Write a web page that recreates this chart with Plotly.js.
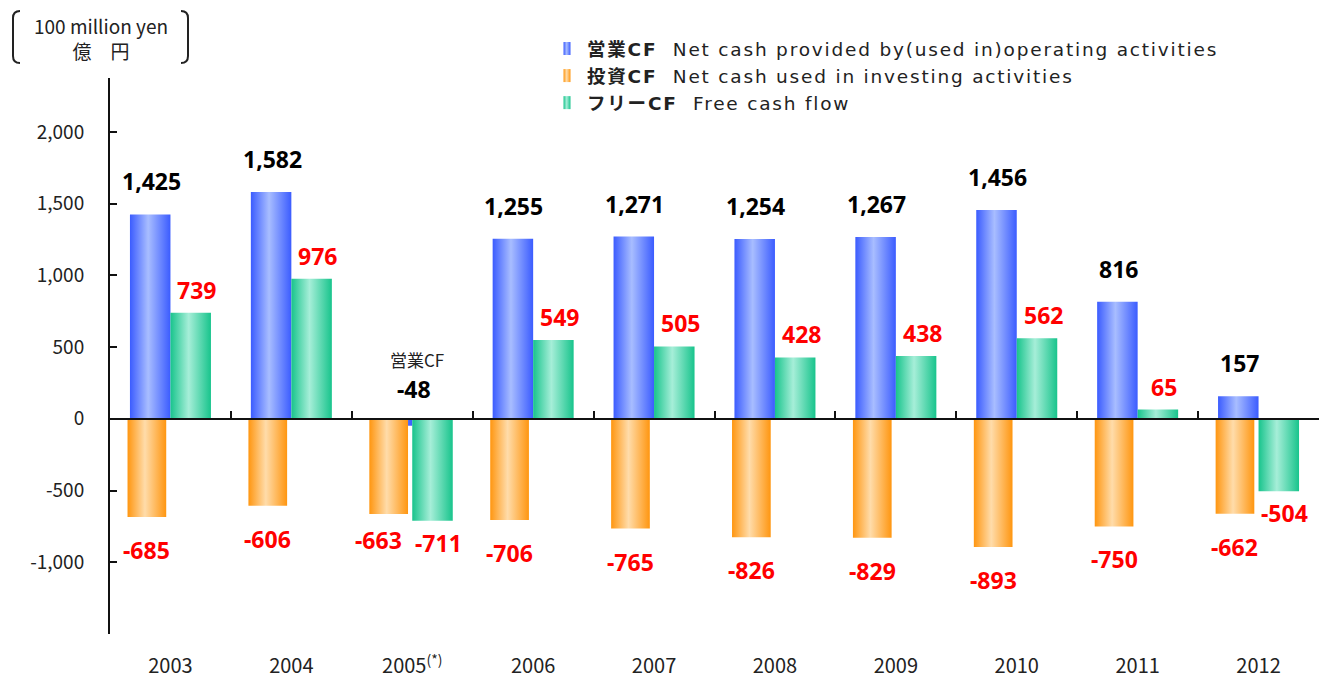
<!DOCTYPE html>
<html><head><meta charset="utf-8">
<script src="https://cdn.plot.ly/plotly-3.0.1.min.js"></script>
<style>body{margin:0;background:#fff}</style></head>
<body><div id="chart" style="width:1319px;height:678px"></div>
<script>
const years = ['2003','2004','2005','2006','2007','2008','2009','2010','2011','2012'];
const yearLabels = ['2003','2004','2005<sup>(*)</sup>','2006','2007','2008','2009','2010','2011','2012'];
const operatingCF = [1425,1582,-48,1255,1271,1254,1267,1456,816,157];
const investingCF = [-685,-606,-663,-706,-765,-826,-829,-893,-750,-662];
const freeCF = [739,976,-711,549,505,428,438,562,65,-504];
const yTickVals = [-1500,-1000,-500,0,500,1000,1500,2000];
const yTickText = ['','-1,000','-500','0','500','1,000','1,500','2,000'];
const seriesNames = [
  '<b>営業CF</b>  Net cash provided by(used in)operating activities',
  '<b>投資CF</b>  Net cash used in investing activities',
  '<b>フリーCF</b>  Free cash flow'
];
const opPrefix = '営業CF';
const unitLabel = '100 million yen<br>億　円';

const FONT = '"Noto Sans CJK JP", "Noto Sans", sans-serif';
const LFONT = '"DejaVu Sans", "Noto Sans CJK JP", sans-serif';
const VFONT = '"Noto Sans", "DejaVu Sans", sans-serif';
const colors = ['#4a6cff','#ffa024','#22cc96'];
const grads = [
  ['#3b5cff','#a8bdff','#3b5cff'],
  ['#ff9610','#ffdcaa','#ff9610'],
  ['#18c48c','#a6eed8','#18c48c']
];

const W = 1319, H = 678, ML = 110, MR = 0, MT = 78, MB = 44;
const yMin = -1500, yMax = 2376;
const pw = W - ML - MR, ph = H - MT - MB;
const px2x = p => (p - ML) / pw;
const py2y = p => (H - MB - p) / ph;

function fmt(v){ return (v < 0 ? '-' : '') + Math.abs(v).toLocaleString('en-US'); }

const idx = years.map((_, i) => i);
const traces = [
  {type:'bar', x: years, y: operatingCF, name: seriesNames[0], offset: -0.335, width: 0.335,
   marker:{color: colors[0], line:{width:0}}, legendgroup:'a', hoverinfo:'skip'},
  {type:'bar', x: years, y: investingCF, name: seriesNames[1], offset: -0.355, width: 0.32,
   marker:{color: colors[1], line:{width:0}}, legendgroup:'b', hoverinfo:'skip'},
  {type:'bar', x: years, y: freeCF, name: seriesNames[2], offset: 0, width: 0.335,
   marker:{color: colors[2], line:{width:0}}, legendgroup:'c', hoverinfo:'skip'},
  {type:'scatter', mode:'none', x: years, y: operatingCF, xaxis:'x2', yaxis:'y', showlegend:false, hoverinfo:'skip'}
];

const ann = [];
const vFont = (c) => ({family: VFONT, size: 23, color: c});
idx.forEach(i => {
  const op = operatingCF[i];
  if (op >= 0) {
    ann.push({x: i - 0.1675, y: op, xref:'x', yref:'y', text:'<b>'+fmt(op)+'</b>', showarrow:false,
      yanchor:'bottom', yshift: 15, xshift: 1, font: vFont('#000')});
  } else {
    ann.push({x: i, y: 0, xref:'x', yref:'y', text:'<b>'+fmt(op)+'</b>', showarrow:false,
      yanchor:'bottom', yshift: 12, xshift: 2, font: vFont('#000')});
    ann.push({x: i, y: 0, xref:'x', yref:'y', text: opPrefix, showarrow:false,
      yanchor:'bottom', yshift: 45, xshift: 5, font: {family: FONT, size: 17, color:'#222'}});
  }
  const inv = investingCF[i];
  const fc = freeCF[i];
  const crowd = fc < 0 && Math.abs(fc - inv) < 100;
  ann.push({x: i - 0.195, y: inv, xref:'x', yref:'y', text:'<b>'+fmt(inv)+'</b>', showarrow:false,
    yanchor:'top', yshift: crowd ? -8 : -15, xshift: crowd ? -10 : 0, font: vFont('#ff0000')});
  ann.push({x: i + 0.1675, y: fc, xref:'x', yref:'y', text:'<b>'+fmt(fc)+'</b>', showarrow:false,
    yanchor: fc >= 0 ? 'bottom' : 'top', yshift: fc >= 0 ? 5 : -4, xshift: 6, font: vFont('#ff0000')});
});
ann.push({x: px2x(101), y: py2y(38), xref:'paper', yref:'paper', text: unitLabel, showarrow:false,
  xanchor:'center', yanchor:'middle', font:{family: FONT, size: 19, color:'#222'}});

function bracket(x0, dir){
  const top = 11, bot = 63, r = 7;
  const a = px2x(x0), b = px2x(x0 - dir*r);
  return {type:'path', xref:'paper', yref:'paper', line:{color:'#222', width:2},
    path: `M ${a} ${py2y(top)} Q ${b} ${py2y(top)} ${b} ${py2y(top+r)} L ${b} ${py2y(bot-r)} Q ${b} ${py2y(bot)} ${a} ${py2y(bot)}`};
}

const layout = {
  width: W, height: H, margin:{l: ML, r: MR, t: MT, b: MB},
  paper_bgcolor:'#fff', plot_bgcolor:'rgba(0,0,0,0)',
  barmode:'overlay', showlegend: true,
  font:{family: FONT, size: 17, color:'#222'},
  legend:{x: px2x(547), y: py2y(30), xanchor:'left', yanchor:'top', bgcolor:'rgba(0,0,0,0)',
    traceorder:'grouped', tracegroupgap: 0, font:{family: LFONT, size: 18.5, color:'#222'}},
  xaxis:{type:'category', categoryorder:'array', categoryarray: years, range:[-0.5, 9.5],
    anchor:'free', position: (0 - yMin) / (yMax - yMin), showline:true, linecolor:'#111', linewidth:2,
    ticks:'inside', tickson:'boundaries', ticklen:7, tickwidth:2, tickcolor:'#111',
    showticklabels:false, showgrid:false, zeroline:false, fixedrange:true},
  xaxis2:{type:'category', overlaying:'x', matches:'x', anchor:'y', side:'bottom',
    categoryorder:'array', categoryarray: years, tickmode:'array', tickvals: years, ticktext: yearLabels,
    showline:false, ticks:'', showgrid:false, zeroline:false, ticklabelstandoff: 18,
    tickfont:{family: FONT, size: 20, color:'#222'}},
  yaxis:{range:[yMin, yMax], tickmode:'array', tickvals: yTickVals, ticktext: yTickText,
    showline:true, linecolor:'#111', linewidth:2, ticks:'inside', ticklen:7, tickwidth:2, tickcolor:'#111',
    showgrid:false, zeroline:false, ticklabelstandoff: 20,
    tickfont:{family: FONT, size: 19, color:'#222'}},
  annotations: ann,
  shapes:[bracket(20, 1), bracket(181, -1)]
};

const gd = document.getElementById('chart');
function applyGradients(){
  const svg = gd.querySelector('.main-svg');
  const NS = 'http://www.w3.org/2000/svg';
  let defs = svg.querySelector('defs');
  if (!defs){ defs = document.createElementNS(NS,'defs'); svg.insertBefore(defs, svg.firstChild); }
  grads.forEach((g, k) => {
    const lg = document.createElementNS(NS, 'linearGradient');
    lg.setAttribute('id', 'barGrad' + k);
    lg.setAttribute('x1','0'); lg.setAttribute('x2','1'); lg.setAttribute('y1','0'); lg.setAttribute('y2','0');
    [[0, g[0]], [0.45, g[1]], [1, g[2]]].forEach(([o, c]) => {
      const s = document.createElementNS(NS, 'stop');
      s.setAttribute('offset', o); s.setAttribute('stop-color', c);
      lg.appendChild(s);
    });
    defs.appendChild(lg);
  });
  gd.querySelectorAll('.barlayer .trace').forEach((t, k) => {
    t.querySelectorAll('path').forEach(p => { p.style.fill = 'url(#barGrad' + k + ')'; });
  });
  gd.querySelectorAll('.legend [clip-path]').forEach(e => e.removeAttribute('clip-path'));
  gd.querySelectorAll('.legend .traces').forEach((t, k) => {
    t.querySelectorAll('.legendpoints path').forEach(p => {
      p.setAttribute('d', 'M3.5,6.5H-3.5V-6.5H3.5Z');
      p.style.fill = 'url(#barGrad' + k + ')'; p.style.stroke = 'none';
    });
    t.querySelectorAll('text.legendtext').forEach(tx => { tx.style.letterSpacing = '1.8px'; });
  });
}
Plotly.newPlot(gd, traces, layout, {displayModeBar:false, staticPlot:true}).then(applyGradients);
</script></body></html>
